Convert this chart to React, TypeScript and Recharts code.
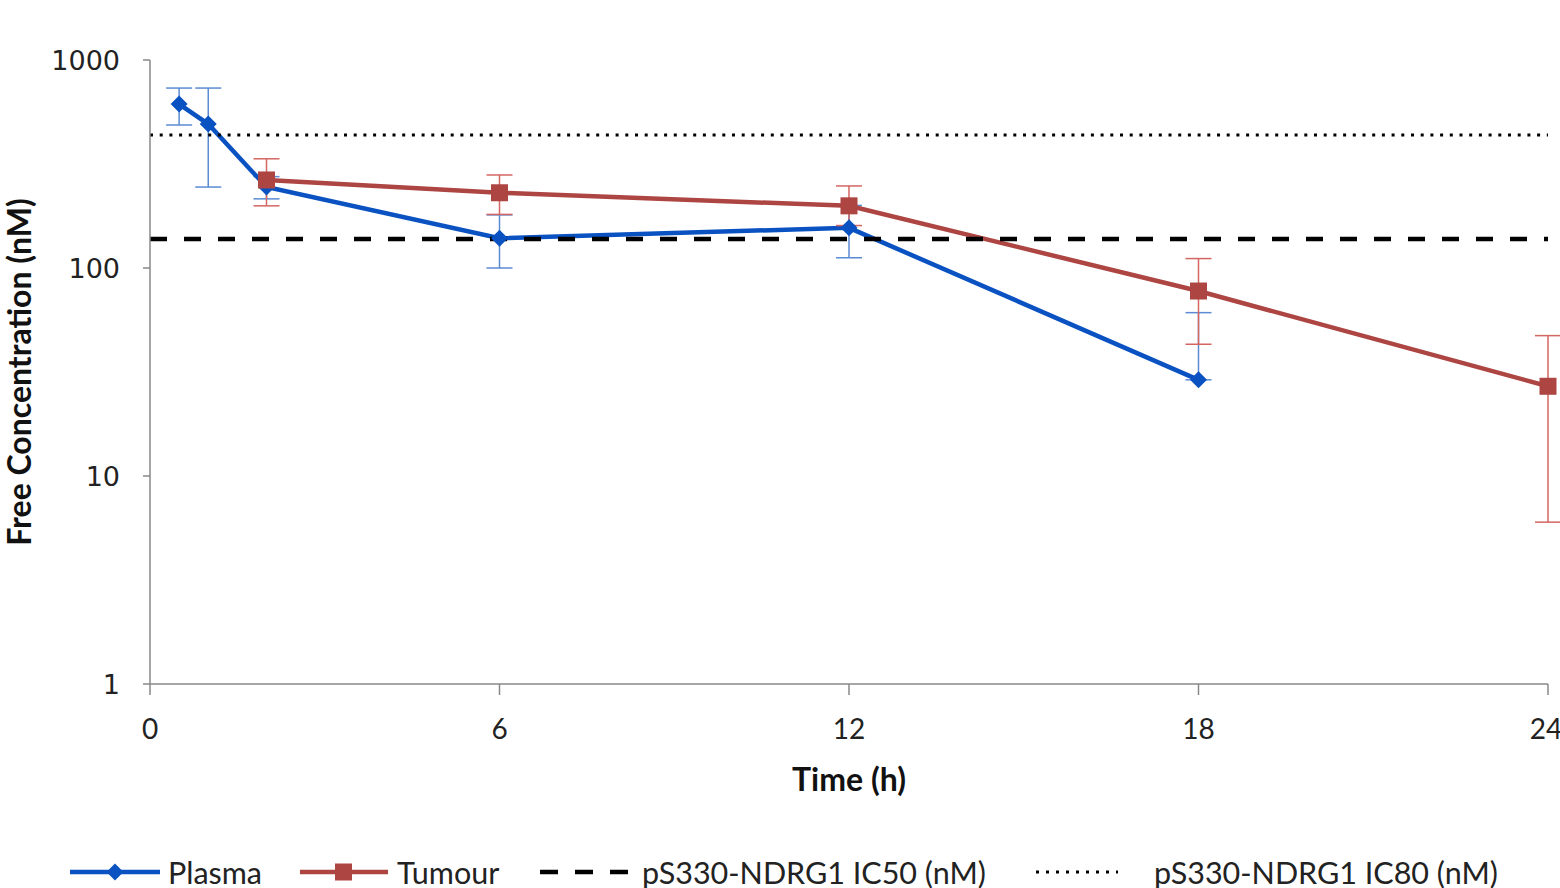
import { LineChart, Line, XAxis, YAxis, ErrorBar, Label } from 'recharts';

const BLUE = '#0a52c2';
const BLUE_ERR = '#5b8bd2';
const RED = '#ad4542';
const RED_ERR = '#d46662';

// time points (h), values (nM), error deltas [minus, plus]
const plasmaTimes = [0.5, 1, 2, 6, 12, 18];
const plasmaValues = [614, 492, 245, 139, 156, 29];
const plasmaErrors: [number, number][] = [
  [127, 119],
  [247, 241],
  [30, 30],
  [39, 41],
  [44, 44],
  [0, 32],
];

const tumourTimes = [2, 6, 12, 18, 24];
const tumourValues = [265, 230, 199, 77.5, 27];
const tumourErrors: [number, number][] = [
  [66, 70],
  [49, 50],
  [39, 49],
  [34.5, 33.5],
  [21, 20.3],
];

const ic50 = 138;
const ic80 = 436;
const xRange = [0, 24];
const xTicks = [0, 6, 12, 18, 24];
const yTicks = [1, 10, 100, 1000];

const plasmaData = plasmaTimes.map((t, i) => ({ t, v: plasmaValues[i], err: plasmaErrors[i] }));
const tumourData = tumourTimes.map((t, i) => ({ t, v: tumourValues[i], err: tumourErrors[i] }));
const ic50Data = xRange.map((t) => ({ t, v: ic50 }));
const ic80Data = xRange.map((t) => ({ t, v: ic80 }));

const Diamond = (props: any) => {
  const { cx, cy, index } = props;
  if (cx == null || cy == null) return <g key={`d-${index}`} />;
  const r = 8.5;
  return (
    <path
      key={`d-${index}`}
      d={`M${cx},${cy - r}L${cx + r},${cy}L${cx},${cy + r}L${cx - r},${cy}Z`}
      fill={BLUE}
    />
  );
};

const Square = (props: any) => {
  const { cx, cy, index } = props;
  if (cx == null || cy == null) return <g key={`s-${index}`} />;
  const h = 8.5;
  return <rect key={`s-${index}`} x={cx - h} y={cy - h} width={h * 2} height={h * 2} fill={RED} />;
};

const legendText: React.CSSProperties = {
  position: 'absolute',
  top: 852,
  fontFamily: 'Lato, sans-serif',
  fontSize: 30.5,
  color: '#222',
  lineHeight: '40px',
  whiteSpace: 'nowrap',
};

function LegendRow() {
  return (
    <>
      <svg style={{ position: 'absolute', left: 0, top: 852 }} width={1560} height={40}>
        <line x1={70} y1={20} x2={160} y2={20} stroke={BLUE} strokeWidth={4.5} />
        <path d="M115,11.5L123.5,20L115,28.5L106.5,20Z" fill={BLUE} />
        <line x1={300} y1={20} x2={388} y2={20} stroke={RED} strokeWidth={4.5} />
        <rect x={335} y={11.5} width={17} height={17} fill={RED} />
        <line x1={540} y1={20} x2={628} y2={20} stroke="#000" strokeWidth={4.5} strokeDasharray="18 17" />
        <line x1={1036} y1={20} x2={1118} y2={20} stroke="#000" strokeWidth={3} strokeDasharray="3 7" />
      </svg>
      <div style={{ ...legendText, left: 168 }}>Plasma</div>
      <div style={{ ...legendText, left: 397 }}>Tumour</div>
      <div style={{ ...legendText, left: 642 }}>pS330-NDRG1 IC50 (nM)</div>
      <div style={{ ...legendText, left: 1154 }}>pS330-NDRG1 IC80 (nM)</div>
    </>
  );
}

export default function App() {
  return (
    <div
      style={{
        position: 'absolute',
        left: 0,
        top: 0,
        width: 1560,
        height: 888,
        overflow: 'hidden',
        background: '#fff',
      }}
    >
      <LineChart width={1560} height={888} margin={{ top: 60, right: 12, bottom: 0, left: 0 }}>
        <XAxis
          type="number"
          dataKey="t"
          domain={[0, 24]}
          ticks={xTicks}
          height={204}
          tickSize={11}
          tickMargin={24}
          stroke="#888"
          strokeWidth={1.5}
          tick={{ fill: '#222', fontSize: 28, fontFamily: 'Lato, sans-serif' }}
          allowDuplicatedCategory={false}
        >
          <Label
            value="Time (h)"
            position="insideTop"
            offset={84}
            style={{ fontFamily: 'Lato, sans-serif', fontSize: 32, fontWeight: 700, fill: '#111' }}
          />
        </XAxis>
        <YAxis
          type="number"
          scale="log"
          domain={[1, 1000]}
          ticks={yTicks}
          allowDataOverflow
          width={150}
          tickSize={7}
          tickMargin={23}
          stroke="#888"
          strokeWidth={1.5}
          tick={{ fill: '#222', fontSize: 27, fontFamily: 'DejaVu Sans, sans-serif' }}
        >
          <Label
            value="Free Concentration (nM)"
            angle={-90}
            position="insideLeft"
            offset={20}
            style={{
              textAnchor: 'middle',
              fontFamily: 'Lato, sans-serif',
              fontSize: 32,
              fontWeight: 700,
              fill: '#111',
            }}
          />
        </YAxis>
        <Line
          data={plasmaData}
          dataKey="v"
          stroke={BLUE}
          strokeWidth={4.5}
          dot={Diamond}
          activeDot={false}
          isAnimationActive={false}
        >
          <ErrorBar dataKey="err" width={13} stroke={BLUE_ERR} strokeWidth={1.5} direction="y" />
        </Line>
        <Line
          data={tumourData}
          dataKey="v"
          stroke={RED}
          strokeWidth={4.5}
          dot={Square}
          activeDot={false}
          isAnimationActive={false}
        >
          <ErrorBar dataKey="err" width={13} stroke={RED_ERR} strokeWidth={1.5} direction="y" />
        </Line>
        <Line
          data={ic50Data}
          dataKey="v"
          stroke="#000"
          strokeWidth={4.5}
          strokeDasharray="17 17"
          dot={false}
          activeDot={false}
          isAnimationActive={false}
        />
        <Line
          data={ic80Data}
          dataKey="v"
          stroke="#000"
          strokeWidth={3.2}
          strokeDasharray="3 6.7"
          dot={false}
          activeDot={false}
          isAnimationActive={false}
        />
      </LineChart>
      <LegendRow />
    </div>
  );
}
